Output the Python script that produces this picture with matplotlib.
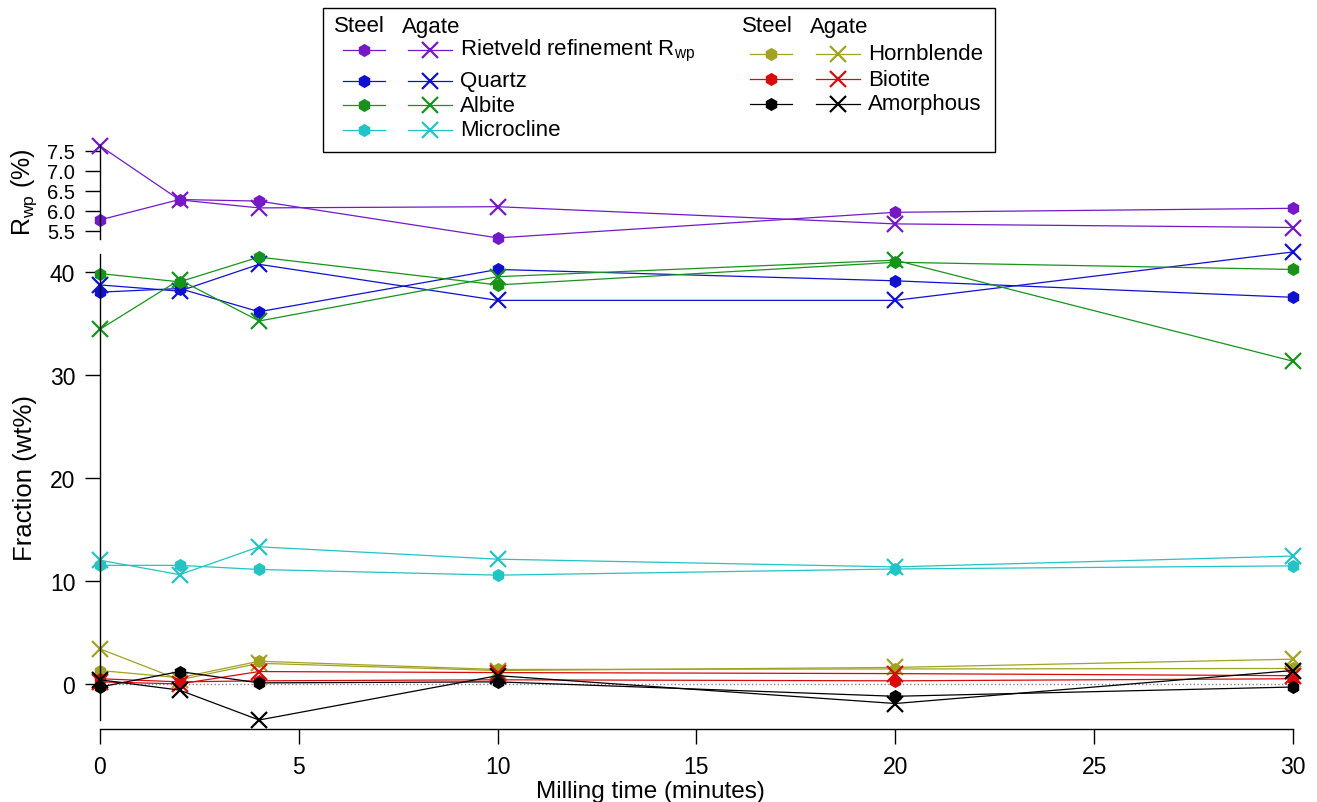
import matplotlib
matplotlib.use("Agg")
import matplotlib.pyplot as plt
from matplotlib.lines import Line2D
from matplotlib.patches import Rectangle

plt.rcParams["font.family"] = ["Liberation Sans", "DejaVu Sans"]
plt.rcParams["font.size"] = 16.5

# ---- data ----
time = [0, 2, 4, 10, 20, 30]

rwp_steel = [5.77, 6.28, 6.24, 5.32, 5.96, 6.06]
rwp_agate = [7.62, 6.27, 6.07, 6.10, 5.67, 5.58]

quartz_steel = [38.0, 38.35, 36.1, 40.2, 39.1, 37.5]
quartz_agate = [38.7, 38.1, 40.7, 37.2, 37.2, 41.9]
albite_steel = [39.8, 39.0, 41.4, 38.7, 40.9, 40.2]
albite_agate = [34.4, 39.2, 35.2, 39.5, 41.1, 31.3]
microcline_steel = [11.5, 11.5, 11.1, 10.55, 11.15, 11.45]
microcline_agate = [12.0, 10.6, 13.3, 12.1, 11.35, 12.4]
hornblende_steel = [1.3, 0.6, 2.2, 1.4, 1.45, 1.5]
hornblende_agate = [3.4, 0.4, 2.0, 1.3, 1.6, 2.4]
biotite_steel = [0.5, 0.2, 0.3, 0.4, 0.3, 0.5]
biotite_agate = [0.2, 0.0, 1.2, 1.1, 1.0, 0.8]
amorphous_steel = [-0.3, 1.2, 0.1, 0.2, -1.2, -0.3]
amorphous_agate = [0.4, -0.6, -3.5, 0.8, -1.9, 1.3]

PURPLE, BLUE, GREEN, CYAN = "#7418c8", "#1010d0", "#16941a", "#22c4c4"
OLIVE, RED, BLACK = "#a2a222", "#d80c0c", "#000000"

phases = [
    ("Quartz", quartz_steel, quartz_agate, BLUE),
    ("Albite", albite_steel, albite_agate, GREEN),
    ("Microcline", microcline_steel, microcline_agate, CYAN),
    ("Hornblende", hornblende_steel, hornblende_agate, OLIVE),
    ("Biotite", biotite_steel, biotite_agate, RED),
    ("Amorphous", amorphous_steel, amorphous_agate, BLACK),
]

W, H = 1317, 803
fig = plt.figure(figsize=(W / 100, H / 100), dpi=100)


def px_axes(x0, x1, ytop, ybot):
    return fig.add_axes([x0 / W, 1 - ybot / H, (x1 - x0) / W, (ybot - ytop) / H])


STEEL = dict(marker="h", ms=9.5, lw=0.9, mew=0, clip_on=False)
AGATE = dict(marker="x", ms=11, lw=0.9, mew=1.6, clip_on=False)

# ---- top panel: Rwp ----
ax_top = px_axes(100, 1293, 145.7, 239.7)
ax_top.plot(time, rwp_steel, color=PURPLE, **STEEL)
ax_top.plot(time, rwp_agate, color=PURPLE, **AGATE)
ax_top.set_xlim(0, 30)
ax_top.set_ylim(5.3, 7.65)
ax_top.set_yticks([5.5, 6.0, 6.5, 7.0, 7.5])
ax_top.set_yticklabels(["5.5", "6.0", "6.5", "7.0", "7.5"], fontsize=14.5)
ax_top.spines[["top", "right", "bottom"]].set_visible(False)
ax_top.tick_params(axis="x", bottom=False, labelbottom=False)

# ---- bottom panel: fractions ----
ax = px_axes(100, 1293, 255, 721)
ax.axhline(0, color="#888888", ls=":", lw=1, zorder=0)
for name, steel, agate, col in phases:
    ax.plot(time, steel, color=col, **STEEL)
    ax.plot(time, agate, color=col, **AGATE)
ax.set_xlim(0, 30)
ax.set_ylim(-3.5, 41.7)
ax.set_yticks([0, 10, 20, 30, 40])
ax.set_xticks([0, 5, 10, 15, 20, 25, 30])
ax.spines[["top", "right"]].set_visible(False)
ax.spines["bottom"].set_position(("outward", 6.5))

for a in (ax, ax_top):
    a.spines["left"].set_linewidth(1)
    a.tick_params(axis="y", direction="out", length=10.8, width=1, pad=7)
ax.spines["bottom"].set_linewidth(1)
ax.tick_params(axis="x", direction="out", length=10.8, width=1, pad=8)

fig.text(650 / W, 1 - 792 / H, "Milling time (minutes)", ha="center", va="center",
         fontsize=17.5)
fig.text(25 / W, 1 - 478 / H, "Fraction (wt%)", rotation=90, ha="center", va="center",
         fontsize=18.5)
fig.text(24 / W, 1 - 192 / H, r"R$_\mathregular{wp}$ (%)", rotation=90,
         ha="center", va="center", fontsize=18)

# ---- legend box (drawn in pixel coordinates) ----
lg = fig.add_axes([0, 0, 1, 1])
lg.set_xlim(0, W)
lg.set_ylim(H, 0)
lg.axis("off")
lg.add_patch(Rectangle((323, 8.5), 672, 144.5, fc="white", ec="black", lw=1))

lg.text(334, 27, "Steel", va="center", fontsize=16)
lg.text(402, 27, "Agate", va="center", fontsize=16)
lg.text(742, 27, "Steel", va="center", fontsize=16)
lg.text(810, 27, "Agate", va="center", fontsize=16)

left_rows = [(r"Rietveld refinement R$_\mathregular{wp}$", PURPLE, 51),
             ("Quartz", BLUE, 81.5), ("Albite", GREEN, 106), ("Microcline", CYAN, 131)]
right_rows = [("Hornblende", OLIVE, 54.5), ("Biotite", RED, 80), ("Amorphous", BLACK, 104.5)]


def legend_row(label, col, y, xs, xa, xt):
    lg.add_line(Line2D([xs - 21, xs + 21], [y, y], color=col, lw=0.9))
    lg.add_line(Line2D([xs], [y], color=col, **STEEL))
    lg.add_line(Line2D([xa - 22, xa + 22], [y, y], color=col, lw=0.9))
    lg.add_line(Line2D([xa], [y], color=col, **AGATE))
    lg.text(xt, y, label, va="center", fontsize=16)


for label, col, y in left_rows:
    legend_row(label, col, y, 364, 430, 460)
for label, col, y in right_rows:
    legend_row(label, col, y, 771, 838, 868)

fig.savefig("out.png", dpi=100)
